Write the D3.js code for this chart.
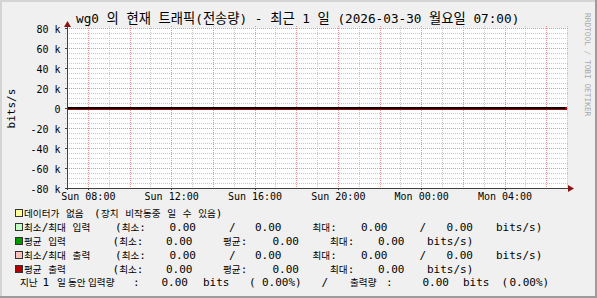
<!DOCTYPE html>
<html>
<head>
<meta charset="utf-8">
<script src="https://cdn.jsdelivr.net/npm/d3@7"></script>
<style>
body { margin: 0; background: #fff; }
svg text { font-family: "DejaVu Sans Mono", "Noto Sans CJK KR", monospace; white-space: pre; fill: #000; }
</style>
</head>
<body>
<div class="graph"></div>
<script>
// chart data
const titleText = "wg0 의 현재 트래픽(전송량) - 최근 1 일 (2026-03-30 월요일 07:00)";
const yLabel = "bits/s";
const timeStart = "2026-03-29T07:00:00Z";
const timeEnd = "2026-03-30T07:00:00Z";
const yTicks = [-80000, -60000, -40000, -20000, 0, 20000, 40000, 60000, 80000];
const xTicks = ["2026-03-29T08:00:00Z", "2026-03-29T12:00:00Z", "2026-03-29T16:00:00Z",
                "2026-03-29T20:00:00Z", "2026-03-30T00:00:00Z", "2026-03-30T04:00:00Z"];
// hourly samples, all zero
const inBits  = [0, 0, 0, 0, 0, 0, 0, 0, 0, 0, 0, 0, 0, 0, 0, 0, 0, 0, 0, 0, 0, 0, 0, 0, 0];
const outBits = [0, 0, 0, 0, 0, 0, 0, 0, 0, 0, 0, 0, 0, 0, 0, 0, 0, 0, 0, 0, 0, 0, 0, 0, 0];

const legendLabels = ["데이터가 없음", "최소/최대 입력", "평균 입력", "최소/최대 출력", "평균 출력"];
const legendColors = ["#FFFF99", "#C0FFC0", "#009900", "#FFC0C0", "#B00000"];
const noDataNote = "장치 비작동중 일 수 있음)";
const inMinMax = [0.00, 0.00, 0.00, 0.00];
const inAvg = [0.00, 0.00, 0.00];
const outMinMax = [0.00, 0.00, 0.00, 0.00];
const outAvg = [0.00, 0.00, 0.00];
const totalBits = [0.00, 0.00];
const totalPct = [0.00, 0.00];

const width = 597, height = 298;
const pLeft = 67, pRight = 567, pTop = 28, pBottom = 188;
const koRe = /([\uAC00-\uD7A3\u3131-\u318E]+)/;

const svg = d3.select(".graph").append("svg")
    .attr("width", width).attr("height", height);

// text with hangul runs in a narrower cjk size
function putText(g, x, y, str, size, koSize) {
    let t = g.append("text").attr("x", x).attr("y", y).attr("font-size", size);
    str.split(koRe).forEach((s) => {
        if (!s) return;
        let ts = t.append("tspan").text(s);
        if (koRe.test(s)) ts.attr("font-family", '"Noto Sans CJK KR"').attr("font-size", koSize);
    });
    return t;
}

// canvas + frame
svg.append("rect").attr("width", width).attr("height", height).attr("fill", "#F0F0F0");
svg.append("rect").attr("x", 0).attr("y", 0).attr("width", width).attr("height", 2).attr("fill", "#D4D4D4");
svg.append("rect").attr("x", 0).attr("y", 0).attr("width", 2).attr("height", height).attr("fill", "#D4D4D4");
svg.append("rect").attr("x", width - 2).attr("y", 0).attr("width", 2).attr("height", height).attr("fill", "#9C9C9C");
svg.append("rect").attr("x", 0).attr("y", height - 2).attr("width", width).attr("height", 2).attr("fill", "#9C9C9C");

svg.append("rect").attr("x", pLeft).attr("y", pTop)
    .attr("width", pRight - pLeft).attr("height", pBottom - pTop).attr("fill", "#FFFFFF");

const xScale = d3.scaleUtc()
    .domain([new Date(timeStart), new Date(timeEnd)])
    .range([pLeft, pRight]);
const yScale = d3.scaleLinear()
    .domain([d3.min(yTicks), d3.max(yTicks)])
    .range([pBottom, pTop]);

// grid
const grid = svg.append("g").attr("shape-rendering", "crispEdges");
const minorY = yScale.ticks(32), majorY = yTicks;
const minorX = xScale.ticks(d3.utcHour.every(1));
const majorX = xScale.ticks(d3.utcHour.every(2));

grid.selectAll(".hmin").data(minorY).enter().append("line")
    .attr("x1", pLeft - 2).attr("x2", pRight + 2)
    .attr("y1", (d) => Math.round(yScale(d)) + 0.5).attr("y2", (d) => Math.round(yScale(d)) + 0.5)
    .attr("stroke", "#C8C8C8").attr("stroke-dasharray", "1,1");
grid.selectAll(".vmin").data(minorX).enter().append("line")
    .attr("y1", pTop - 2).attr("y2", pBottom + 2)
    .attr("x1", (d) => Math.round(xScale(d)) + 0.5).attr("x2", (d) => Math.round(xScale(d)) + 0.5)
    .attr("stroke", "#C8C8C8").attr("stroke-dasharray", "1,1");
grid.selectAll(".hmaj").data(majorY).enter().append("line")
    .attr("x1", pLeft - 2).attr("x2", pRight + 2)
    .attr("y1", (d) => Math.round(yScale(d)) + 0.5).attr("y2", (d) => Math.round(yScale(d)) + 0.5)
    .attr("stroke", "#EE9090").attr("stroke-dasharray", "1,1");
grid.selectAll(".vmaj").data(majorX).enter().append("line")
    .attr("y1", pTop - 2).attr("y2", pBottom + 2)
    .attr("x1", (d) => Math.round(xScale(d)) + 0.5).attr("x2", (d) => Math.round(xScale(d)) + 0.5)
    .attr("stroke", "#EE9090").attr("stroke-dasharray", "1,1");

// series
const samples = d3.utcHour.range(new Date(timeStart), d3.utcHour.offset(new Date(timeEnd), 1))
    .map((t, i) => ({"t": t, "inb": inBits[i], "outb": outBits[i]}));

svg.append("path").datum(samples)
    .attr("d", d3.area().x((d) => xScale(d.t)).y0(yScale(0)).y1((d) => yScale(d.inb)))
    .attr("fill", legendColors[2]);
svg.append("path").datum(samples)
    .attr("d", d3.area().x((d) => xScale(d.t)).y0(yScale(0)).y1((d) => yScale(-d.outb)))
    .attr("fill", legendColors[4]);
svg.append("path").datum(samples)
    .attr("d", d3.line().x((d) => xScale(d.t)).y((d) => yScale(-d.outb) + 0.5))
    .attr("fill", "none").attr("stroke", legendColors[4]).attr("stroke-width", 3)
    .attr("shape-rendering", "crispEdges");
svg.append("line")
    .attr("x1", pLeft).attr("x2", pRight - 2)
    .attr("y1", yScale(0)).attr("y2", yScale(0))
    .attr("stroke", "#000").attr("stroke-width", 2).attr("shape-rendering", "crispEdges");

// axes
const yAxis = svg.append("g")
    .attr("transform", "translate(" + pLeft + ",0)")
    .call(d3.axisLeft(yScale).tickValues(yTicks).tickSizeInner(2).tickSizeOuter(0).tickPadding(4.5)
        .tickFormat((d) => d === 0 ? "0" : (d / 1000) + " k"));
yAxis.select(".domain").remove();
yAxis.selectAll("line").attr("stroke", "#404040").attr("shape-rendering", "crispEdges");
yAxis.selectAll("text").attr("font-family", null).attr("font-size", 10).attr("dy", "0.4em").attr("fill", "#000");

const xAxis = svg.append("g")
    .attr("transform", "translate(0," + pBottom + ")")
    .call(d3.axisBottom(xScale).tickValues(xTicks.map((s) => new Date(s)))
        .tickSizeInner(2).tickSizeOuter(0).tickPadding(3)
        .tickFormat(d3.utcFormat("%a %H:%M")));
xAxis.select(".domain").remove();
xAxis.selectAll("line").attr("stroke", "#404040").attr("shape-rendering", "crispEdges");
xAxis.selectAll("text").attr("font-family", null).attr("font-size", 10).attr("fill", "#000");

svg.append("line").attr("x1", pLeft + 0.5).attr("x2", pLeft + 0.5)
    .attr("y1", pBottom + 2).attr("y2", pTop - 2)
    .attr("stroke", "#404040").attr("shape-rendering", "crispEdges");
svg.append("line").attr("x1", pLeft - 2).attr("x2", pRight + 2)
    .attr("y1", pBottom + 0.5).attr("y2", pBottom + 0.5)
    .attr("stroke", "#404040").attr("shape-rendering", "crispEdges");
svg.append("path").attr("d", "M64,27 L71,27 L67.5,21 Z").attr("fill", "#8E1212");
svg.append("path").attr("d", "M568,185 L568,192 L574,188.5 Z").attr("fill", "#8E1212");

// title, y label, watermark
putText(svg, 76, 23, titleText, 12.7, 13.3);
svg.append("text").text(yLabel)
    .attr("transform", "translate(15,108.5) rotate(-90)")
    .attr("text-anchor", "middle").attr("font-size", 11);
svg.append("text").text("RRDTOOL / TOBI OETIKER")
    .attr("transform", "translate(585,13) rotate(90)")
    .attr("font-size", 7.8).style("fill", "#A8A8A8");

// legend
const fmt = d3.format(".2f");
const pct = (v) => fmt(v) + "%)";
const koSize = 9.6, lgSize = 11;
const rowY = [217, 231, 245, 259, 272.5, 286];
const lg = svg.append("g");

const minMaxRow = (label, vals) => [[24, label], [115, "(최소:"], [169.5, fmt(vals[0])], [229, "/"],
    [255, fmt(vals[1])], [312.5, "최대:"], [361, fmt(vals[2])], [419.5, "/"], [446.5, fmt(vals[3])], [496, "bits/s)"]];
const avgRow = (label, vals) => [[24, label], [112.5, "(최소:"], [166, fmt(vals[0])], [223, "평균:"],
    [272.5, fmt(vals[1])], [330, "최대:"], [378, fmt(vals[2])], [427, "bits/s)"]];

const rows = [
    [[24, legendLabels[0]], [94, "("], [101, noDataNote]],
    minMaxRow(legendLabels[1], inMinMax),
    avgRow(legendLabels[2], inAvg),
    minMaxRow(legendLabels[3], outMinMax),
    avgRow(legendLabels[4], outAvg),
    [[20, "지난"], [42.5, "1"], [57, "일"], [68, "동안"], [88, "입력량"], [133, ":"],
     [161.5, fmt(totalBits[0])], [203, "bits"], [249, "("], [262, pct(totalPct[0])], [321.5, "/"],
     [350, "출력량"], [386, ":"], [422.5, fmt(totalBits[1])], [463, "bits"], [501.5, "("], [509.5, pct(totalPct[1])]]
];

rows.forEach((parts, r) => {
    parts.forEach((p) => putText(lg, p[0], rowY[r], p[1], lgSize, koSize));
});

lg.selectAll("rect").data(legendColors).enter().append("rect")
    .attr("x", 15.5).attr("y", (d, i) => rowY[i] - 7.5)
    .attr("width", 7).attr("height", 7)
    .attr("fill", (d) => d).attr("stroke", "#333").attr("shape-rendering", "crispEdges");
</script>
</body>
</html>
